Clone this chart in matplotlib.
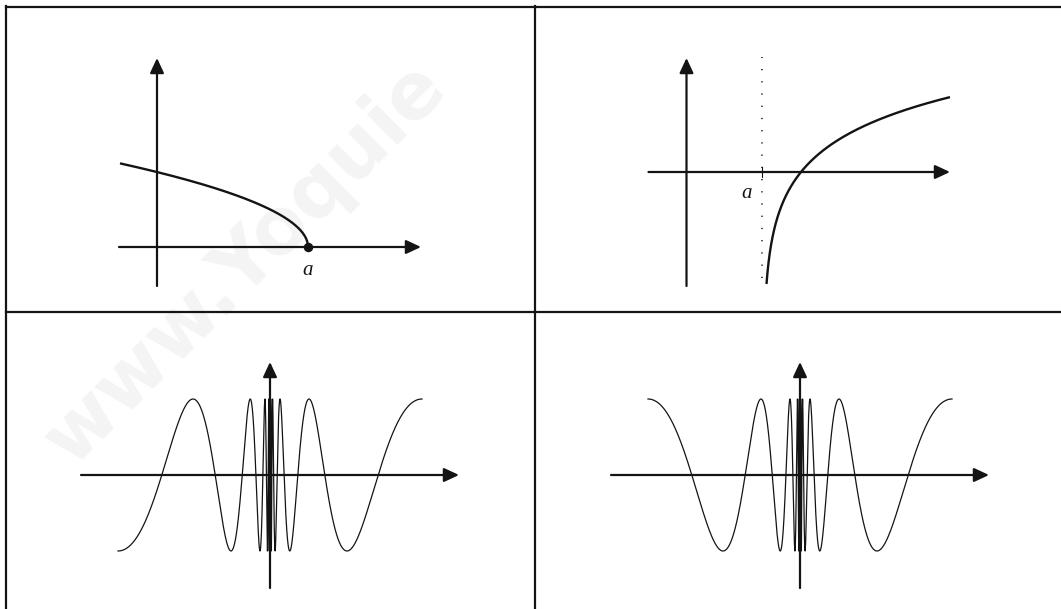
import numpy as np
import matplotlib
matplotlib.use("Agg")
import matplotlib.pyplot as plt

# ---------------- data (pixel units relative to each sketch's origin) ----------------
# top-left: y = c*sqrt(a - x), ending on the x-axis at x = a (marked with a dot)
tl_root = 151.0
tl_coef = 6.1
tl_xstart = -37.0

# top-right: y = A*ln((x - asym)/(zero - asym)), vertical asymptote at x = a (dotted line)
tr_asym = 76.5
tr_zero = 114.5
tr_A = 47.0
tr_ybottom = -112.0
tr_xend = 263.5

# bottom row: oscillation sin(k*ln|x|) clustering at the origin
osc_amp = 76.0
osc_half = 152.0
osc_k = 4.62

labels = ["a", "a"]
watermark = "www.Yoquie"

# ---------------- layout ----------------
W, H = 1061, 609
INK = "#141414"
fig = plt.figure(figsize=(W / 100, H / 100), dpi=100)

# table / background axes in pixel coordinates (y downward)
gax = fig.add_axes([0, 0, 1, 1])
gax.set_xlim(0, W)
gax.set_ylim(H, 0)
gax.axis("off")
gax.text(72, 468, watermark, rotation=45, rotation_mode="anchor", ha="left",
         va="baseline", fontsize=56, color="#f4f4f4", family="DejaVu Sans",
         fontweight="bold", zorder=0)
tbl_lw = 1.6
gax.plot([6, 6], [6, H], color=INK, lw=tbl_lw, solid_capstyle="projecting", zorder=2)
gax.plot([535, 535], [6, H], color=INK, lw=tbl_lw, zorder=2)
gax.plot([6, W], [6.5, 6.5], color=INK, lw=tbl_lw, solid_capstyle="projecting", zorder=2)
gax.plot([6, W], [312, 312], color=INK, lw=tbl_lw, zorder=2)


def panel(ox, oy):
    """Full-figure overlay axes whose origin sits at pixel (ox, oy), y upward."""
    ax = fig.add_axes([0, 0, 1, 1])
    ax.set_xlim(-ox, W - ox)
    ax.set_ylim(oy - H, oy)
    ax.axis("off")
    ax.patch.set_alpha(0)
    return ax


def axes_arrows(ax, x0, x1, y0, y1):
    ap = dict(arrowstyle="-|>,head_length=0.9,head_width=0.42", mutation_scale=10,
              lw=1.6, color=INK, shrinkA=0, shrinkB=0)
    ax.annotate("", xy=(x1, 0), xytext=(x0, 0), arrowprops=ap)
    ax.annotate("", xy=(0, y1), xytext=(0, y0), arrowprops=ap)


# ---- top-left ----
ax1 = panel(157, 247)
axes_arrows(ax1, -38, 264, -39, 189)
x = np.linspace(tl_xstart, tl_root, 600)
ax1.plot(x, tl_coef * np.sqrt(tl_root - x), color=INK, lw=1.7, solid_capstyle="butt")
ax1.plot([tl_root], [0], "o", color=INK, ms=5.8)
ax1.text(tl_root, -23, labels[0], ha="center", va="center", fontsize=15,
         family="Liberation Serif", style="italic", color=INK)

# ---- top-right ----
ax2 = panel(686.5, 172)
axes_arrows(ax2, -38, 263.5, -114, 114)
xa = tr_asym - 0.9
ax2.plot([xa, xa], [-106, 115], color=INK, lw=1.1, ls=(0, (0.8, 7.2)))
ax2.plot([xa, xa], [-5, 5], color=INK, lw=0.8)
xs_start = tr_asym + (tr_zero - tr_asym) * np.exp(tr_ybottom / tr_A)
x = np.geomspace(xs_start - tr_asym, tr_xend - tr_asym, 800) + tr_asym
ax2.plot(x, tr_A * np.log((x - tr_asym) / (tr_zero - tr_asym)), color=INK, lw=1.7,
         solid_capstyle="butt")
ax2.text(tr_asym - 16, -21, labels[1], ha="center", va="center", fontsize=15,
         family="Liberation Serif", style="italic", color=INK)

# ---- bottom row ----
r = np.geomspace(0.3, osc_half, 40000)
phase = np.pi / 2 + osc_k * np.log(osc_half / r)
wave = osc_amp * np.sin(phase)

ax3 = panel(270, 475)
axes_arrows(ax3, -189, 189, -113, 113)
xx = np.concatenate([-r[::-1], r])
yy = np.concatenate([-wave[::-1], wave])          # odd function
ax3.plot(xx, yy, color=INK, lw=0.9)

ax4 = panel(800, 475)
axes_arrows(ax4, -189, 189, -113, 113)
yy = np.concatenate([wave[::-1], wave])           # even function
ax4.plot(xx, yy, color=INK, lw=0.9)

fig.savefig("out.png", dpi=100)
